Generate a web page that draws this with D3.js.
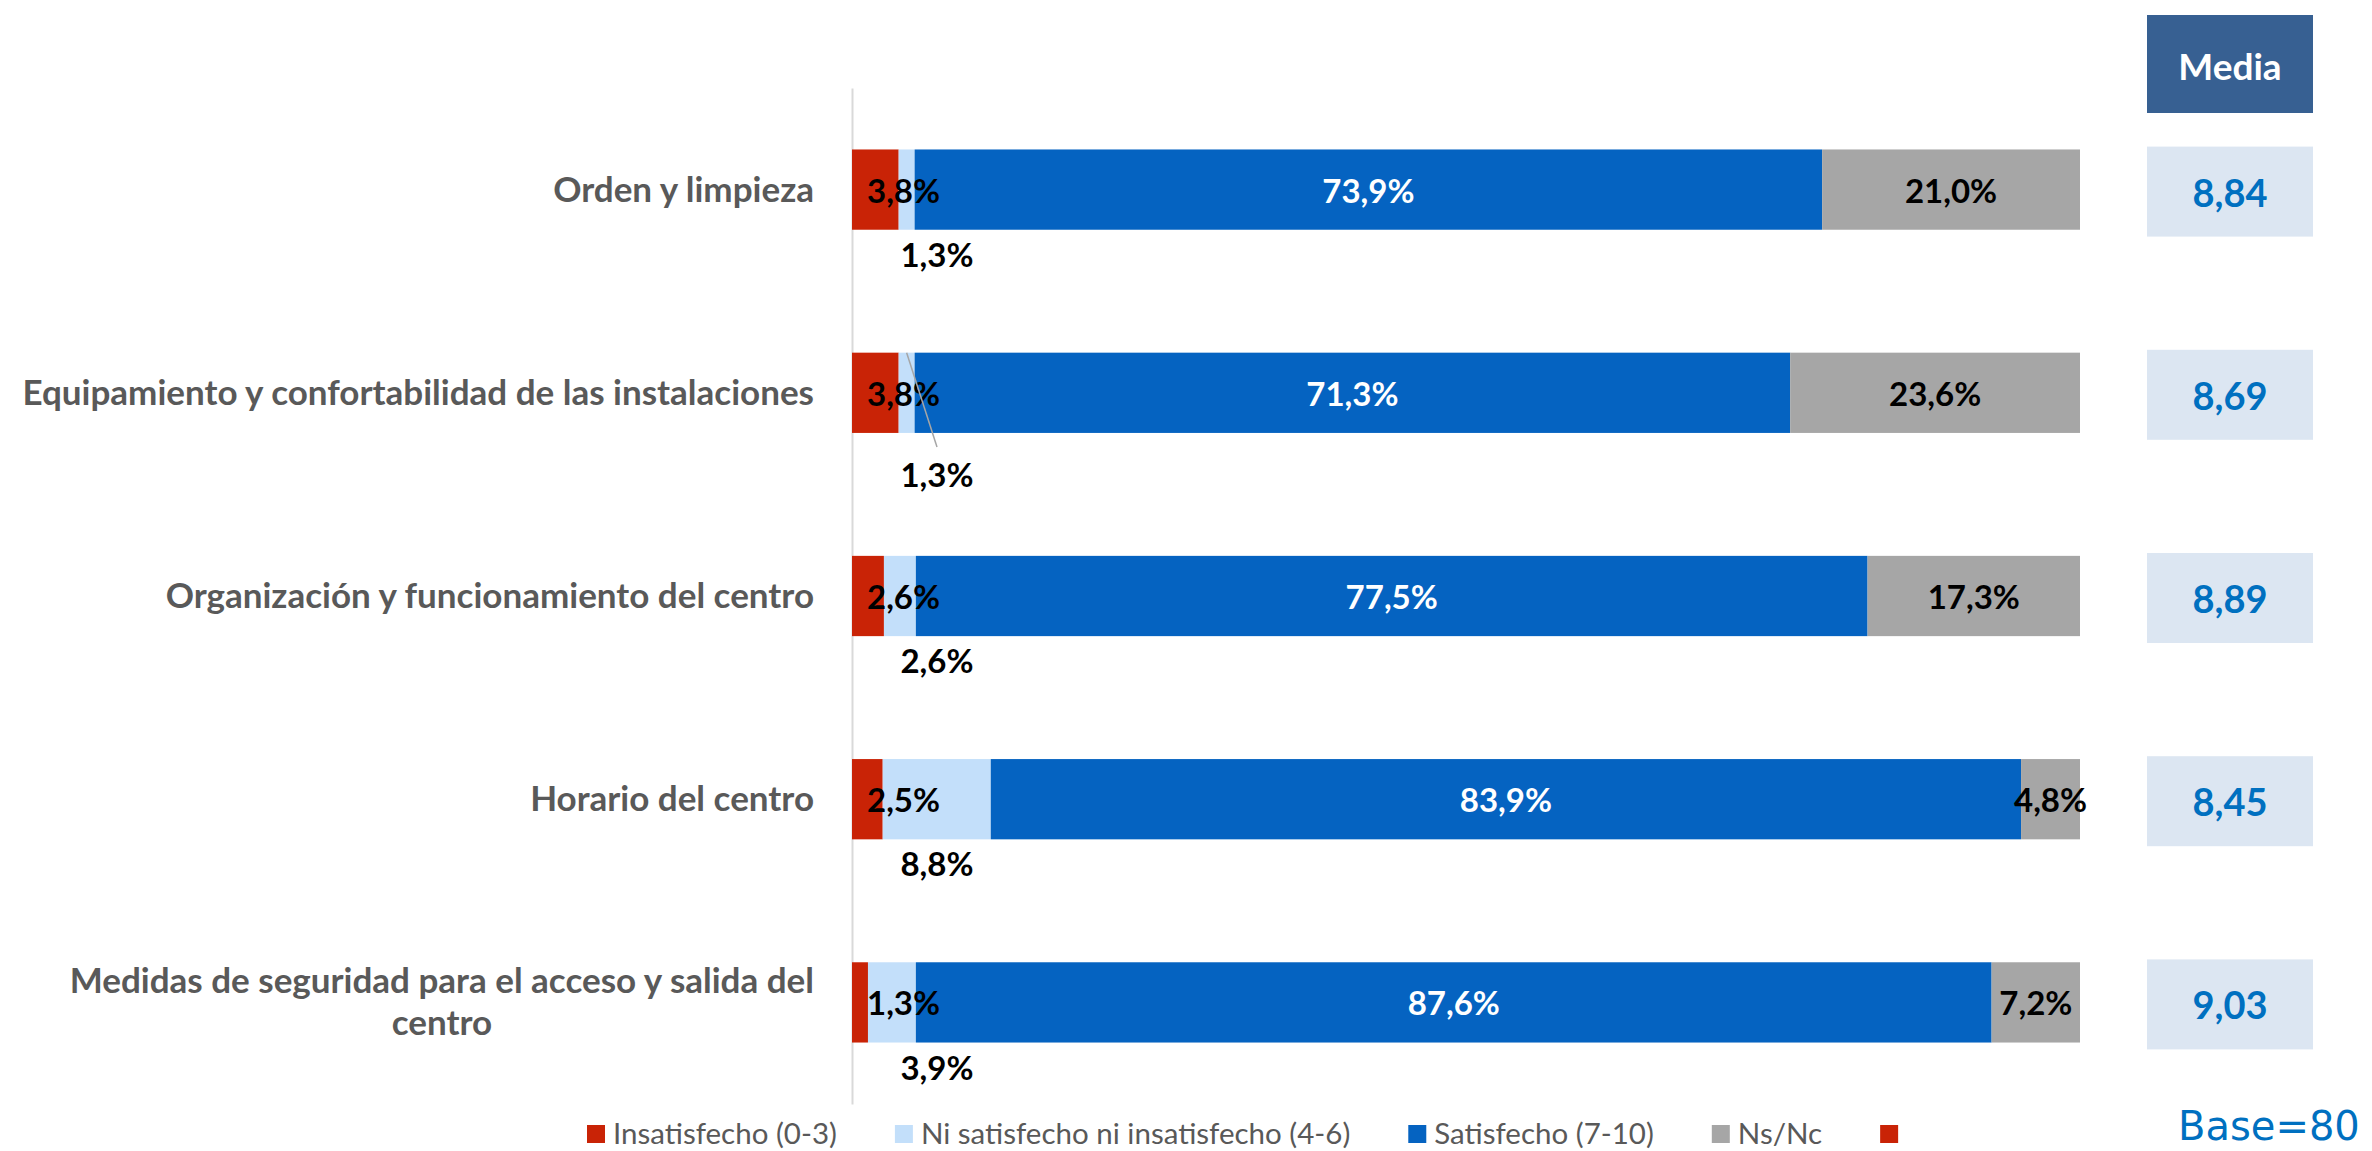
<!DOCTYPE html>
<html><head><meta charset="utf-8">
<script src="https://cdn.jsdelivr.net/npm/d3@7"></script>
<style>body{margin:0;background:#fff} svg{display:block}</style>
</head><body>
<svg id="c" width="2372" height="1151"></svg>
<script>
// ---- data ----
const categories = [
  "Orden y limpieza",
  "Equipamiento y confortabilidad de las instalaciones",
  "Organización y funcionamiento del centro",
  "Horario del centro",
  "Medidas de seguridad para el acceso y salida del centro"
];
const insatisfecho = [3.8, 3.8, 2.6, 2.5, 1.3];
const neutral      = [1.3, 1.3, 2.6, 8.8, 3.9];
const satisfecho   = [73.9, 71.3, 77.5, 83.9, 87.6];
const nsnc         = [21.0, 23.6, 17.3, 4.8, 7.2];
const medias       = [8.84, 8.69, 8.89, 8.45, 9.03];
const seriesKeys   = ["ins", "ni", "sat", "ns"];
const legendLabels = ["Insatisfecho (0-3)", "Ni satisfecho ni insatisfecho (4-6)", "Satisfecho (7-10)", "Ns/Nc", ""];
const mediaTitle = "Media";
const baseN = 80;

// ---- styles ----
const colors = {ins: "#C92306", ni: "#C3DFFA", sat: "#0563C1", ns: "#A6A6A6"};
const legendColors = [colors.ins, colors.ni, colors.sat, colors.ns, colors.ins];
const FONT = "Lato, 'Open Sans', sans-serif";
const GREY_TXT = "#595959";

const loc = d3.formatLocale({decimal: ",", thousands: ".", grouping: [3], currency: ["", "€"]});
const fPct = v => loc.format(".1f")(v) + "%";
const fMed = loc.format(".2f");

const rows = categories.map((c, i) => ({cat: c, ins: insatisfecho[i], ni: neutral[i], sat: satisfecho[i], ns: nsnc[i], media: medias[i]}));
const stacked = d3.stack().keys(seriesKeys)(rows);

const svg = d3.select("#c");
const x = d3.scaleLinear().domain([0, 100]).range([852, 2080]);
const y = d3.scaleBand().domain(categories).range([88, 1104]).paddingInner(0.605).paddingOuter(0.3025);
const bw = y.bandwidth();
const cy = c => y(c) + bw / 2;

// axis line
const ax = svg.append("g").attr("transform", `translate(${x(0)},0)`)
  .call(d3.axisLeft(y).tickSize(0).tickSizeOuter(0).tickFormat(""));
ax.select(".domain").attr("stroke", "#D9D9D9").attr("stroke-width", 2);

// bars
const g = svg.append("g");
stacked.forEach(s => {
  g.append("g").selectAll("rect").data(s).join("rect")
    .attr("x", d => x(d[0]))
    .attr("width", d => x(d[1]) - x(d[0]))
    .attr("y", d => y(d.data.cat))
    .attr("height", bw)
    .attr("fill", colors[s.key]);
});

// category labels (wrapped, right-aligned block, centered lines)
const labelRight = x(0) - 38;
const maxLabelW = 820;
rows.forEach(r => {
  const t = svg.append("text").attr("font-family", FONT).attr("font-weight", 700)
    .attr("font-size", 35).attr("fill", GREY_TXT);
  const words = r.cat.split(" ");
  const lines = [];
  let cur = [];
  const probe = t.append("tspan");
  words.forEach(w => {
    const test = cur.concat([w]).join(" ");
    probe.text(test);
    if (probe.node().getComputedTextLength() > maxLabelW && cur.length) {
      lines.push(cur.join(" ")); cur = [w];
    } else cur.push(w);
  });
  lines.push(cur.join(" "));
  probe.remove();
  const lh = 42;
  const c = cy(r.cat);
  const first = c + 12 - (lines.length - 1) * lh / 2;
  if (lines.length === 1) {
    t.attr("text-anchor", "end").attr("x", labelRight).attr("y", first).text(lines[0]);
  } else {
    const spans = lines.map((l, i) => t.append("tspan").attr("y", first + i * lh).text(l));
    const wmax = d3.max(spans, s => s.node().getComputedTextLength());
    t.attr("text-anchor", "middle");
    spans.forEach(s => s.attr("x", labelRight - wmax / 2));
  }
});

// value labels
const lab = svg.append("g").attr("font-family", FONT).attr("font-weight", 700).attr("font-size", 33);
rows.forEach((r, i) => {
  const c = cy(r.cat);
  const top = y(r.cat), bot = top + bw;
  // insatisfecho
  lab.append("text").attr("x", x(0) + 15).attr("y", c + 13).attr("fill", "#000").text(fPct(r.ins));
  // satisfecho
  lab.append("text").attr("text-anchor", "middle").attr("x", x(r.ins + r.ni + r.sat / 2)).attr("y", c + 13)
    .attr("fill", "#fff").text(fPct(r.sat));
  // ns/nc
  lab.append("text").attr("text-anchor", "middle").attr("x", x(100 - r.ns / 2)).attr("y", c + 13)
    .attr("fill", "#000").text(fPct(r.ns));
  // neutral (below bar)
  const segC = x(r.ins + r.ni / 2);
  const lx = Math.max(segC, x(0) + 85);
  const leader = i === 1;
  const ly = bot + (leader ? 54 : 37);
  if (leader) {
    svg.append("line").attr("x1", segC).attr("y1", top).attr("x2", lx).attr("y2", ly - 40)
      .attr("stroke", "#A6A6A6").attr("stroke-width", 1.5);
  }
  lab.append("text").attr("text-anchor", "middle").attr("x", lx).attr("y", ly).attr("fill", "#000").text(fPct(r.ni));
});

// Media column
const mx = 2147, mw = 166;
svg.append("rect").attr("x", mx).attr("y", 15).attr("width", mw).attr("height", 98).attr("fill", "#376092");
svg.append("text").attr("x", mx + mw / 2).attr("y", 80).attr("text-anchor", "middle")
  .attr("font-family", FONT).attr("font-weight", 700).attr("font-size", 37).attr("fill", "#fff").text(mediaTitle);
rows.forEach(r => {
  const c = cy(r.cat) + 2;
  svg.append("rect").attr("x", mx).attr("y", c - 45).attr("width", mw).attr("height", 90).attr("fill", "#DCE6F2");
  svg.append("text").attr("x", mx + mw / 2).attr("y", c + 15).attr("text-anchor", "middle")
    .attr("font-family", FONT).attr("font-weight", 700).attr("font-size", 38).attr("fill", "#0070C0").text(fMed(r.media));
});

// legend
const lg = svg.append("g").attr("font-family", FONT).attr("font-size", 29.5).attr("fill", GREY_TXT);
let lxPos = 587;
legendLabels.forEach((l, i) => {
  lg.append("rect").attr("x", lxPos).attr("y", 1125).attr("width", 18).attr("height", 18).attr("fill", legendColors[i]);
  const t = lg.append("text").attr("x", lxPos + 26).attr("y", 1144).text(l);
  lxPos += 26 + t.node().getComputedTextLength() + 58;
});

// base
svg.append("text").attr("x", 2178).attr("y", 1140).attr("font-family", "'DejaVu Sans', sans-serif")
  .attr("font-size", 40).attr("fill", "#0070C0").text("Base=" + baseN);
</script>
</body></html>
